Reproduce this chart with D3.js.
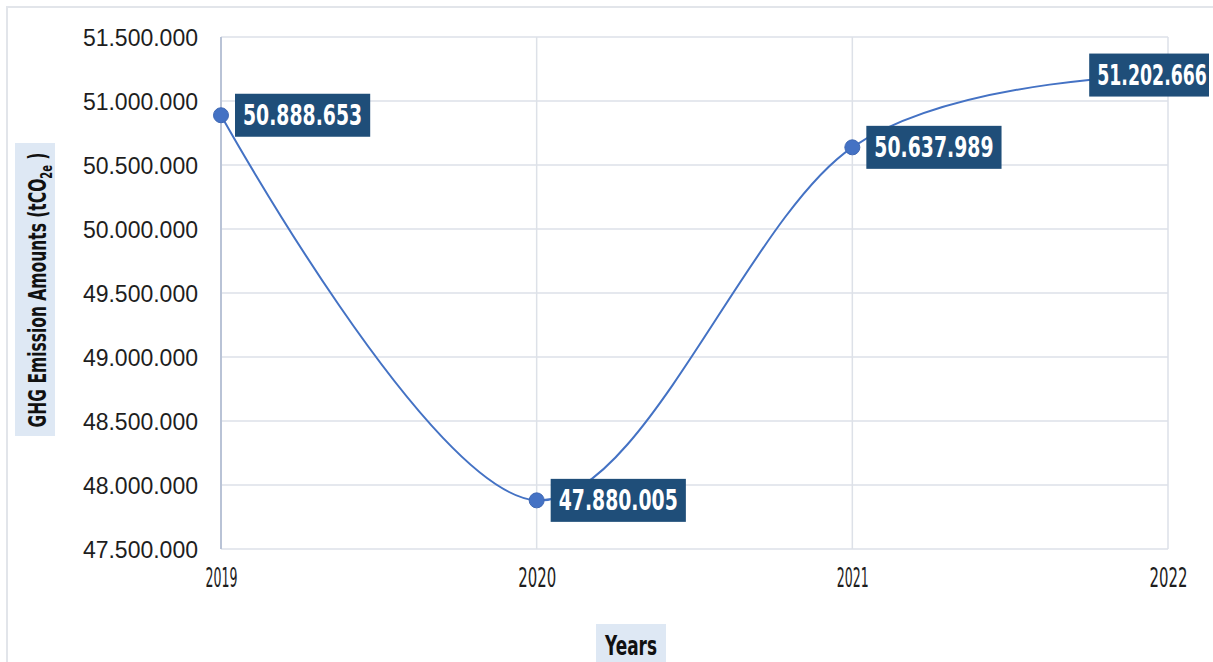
<!DOCTYPE html>
<html>
<head>
<meta charset="utf-8">
<script src="https://cdn.jsdelivr.net/npm/d3@7"></script>
<style>
  html, body { margin: 0; padding: 0; background: #fff; }
  svg { display: block; }
</style>
</head>
<body>
<svg id="chart" width="1213" height="662"></svg>
<script>
// GHG emissions by year (tCO2e)
const years = ["2019", "2020", "2021", "2022"];
const emissions = [50888653, 47880005, 50637989, 51202666];
const yTickValues = [47500000, 48000000, 48500000, 49000000, 49500000, 50000000, 50500000, 51000000, 51500000];

const W = 1213, H = 662;
const plot = { left: 221, right: 1168, top: 37, bottom: 549 };

const svg = d3.select("#chart");
const locale = d3.formatLocale({ decimal: ",", thousands: ".", grouping: [3], currency: ["", ""] });
const fmt = locale.format(",");

const x = d3.scalePoint().domain(years).range([plot.left, plot.right]);
const y = d3.scaleLinear().domain([47500000, 51500000]).range([plot.bottom, plot.top]);

const condensed = "'DejaVu Sans', 'Liberation Sans', sans-serif";

// squeeze a text node horizontally to a target width
function fitWidth(node, target) {
  const w = node.getComputedTextLength();
  return w > 0 ? target / w : 1;
}

// outer chart frame
svg.append("rect")
  .attr("x", 7).attr("y", 7).attr("width", W + 20).attr("height", H + 20)
  .attr("fill", "none").attr("stroke", "#e2e5ea").attr("stroke-width", 2);

// horizontal gridlines
svg.append("g")
  .selectAll("line")
  .data(yTickValues)
  .join("line")
  .attr("x1", plot.left).attr("x2", plot.right)
  .attr("y1", d => y(d)).attr("y2", d => y(d))
  .attr("stroke", "#dde1e8").attr("stroke-width", 1.5);

// vertical gridlines
svg.append("g")
  .selectAll("line")
  .data(years.slice(1))
  .join("line")
  .attr("x1", d => x(d)).attr("x2", d => x(d))
  .attr("y1", plot.top).attr("y2", plot.bottom)
  .attr("stroke", "#dde1e8").attr("stroke-width", 1.5);

// value axis line
svg.append("line")
  .attr("x1", plot.left).attr("x2", plot.left)
  .attr("y1", plot.top).attr("y2", plot.bottom)
  .attr("stroke", "#b9c3d6").attr("stroke-width", 2);

// y tick labels
const yAxis = d3.axisLeft(y).tickValues(yTickValues).tickFormat(fmt).tickSize(0).tickPadding(23);
const gy = svg.append("g").attr("transform", `translate(${plot.left},0)`).call(yAxis);
gy.select(".domain").remove();
gy.selectAll("text")
  .attr("font-family", "'Liberation Sans', Arial, sans-serif")
  .attr("font-size", 23)
  .attr("fill", "#1e1e1e")
  .attr("dy", "0.36em");

// x tick labels (narrow face)
const xAxis = d3.axisBottom(x).tickSize(0).tickPadding(0);
const gx = svg.append("g").attr("transform", `translate(0,${plot.bottom})`).call(xAxis);
gx.select(".domain").remove();
gx.selectAll(".tick text").each(function (d) {
  const t = d3.select(this)
    .attr("font-family", condensed)
    .attr("font-size", 26)
    .attr("fill", "#1e1e1e")
    .attr("text-anchor", "middle")
    .attr("x", 0).attr("y", 0).attr("dy", null);
  const target = d.split("").reduce((s, c) => s + (c === "1" ? 3.5 : 9.5), 0);
  const k = fitWidth(this, target);
  t.attr("transform", `translate(0,38) scale(${k},1)`);
});

// smoothed series line
const pts = years.map((yr, i) => ({ yr, v: emissions[i] }));
svg.append("path")
  .datum(pts)
  .attr("fill", "none")
  .attr("stroke", "#4472c4")
  .attr("stroke-width", 2)
  .attr("d", d3.line().x(d => x(d.yr)).y(d => y(d.v)).curve(d3.curveCardinal.tension(0)));

// markers
svg.append("g")
  .selectAll("circle")
  .data(pts)
  .join("circle")
  .attr("cx", d => x(d.yr)).attr("cy", d => y(d.v))
  .attr("r", 7.5)
  .attr("fill", "#4472c4")
  .attr("stroke", "#3f68b4").attr("stroke-width", 1);

// data labels
const labelRight = 1209;
const labels = svg.append("g");
pts.forEach(d => {
  const s = fmt(d.v);
  const textW = s.split("").reduce((a, c) => a + (c === "1" ? 4 : c === "." ? 6 : 13.4), 0);
  const px = x(d.yr), py = y(d.v);
  let bx = px + 14, bw = textW + 16;
  if (bx + bw > labelRight) { bw = textW + 10; bx = labelRight - bw; }
  const g = labels.append("g");
  g.append("rect")
    .attr("x", bx).attr("y", py - 21.5)
    .attr("width", bw).attr("height", 43)
    .attr("fill", "#1f4e79");
  const t = g.append("text")
    .attr("font-family", condensed)
    .attr("font-weight", "bold")
    .attr("font-size", 28)
    .attr("fill", "#ffffff")
    .text(s);
  const k = fitWidth(t.node(), textW);
  t.attr("transform", `translate(${bx + 8},${py + 10}) scale(${k},1)`);
});

// y axis title
svg.append("rect")
  .attr("x", 15).attr("y", 143).attr("width", 40).attr("height", 293)
  .attr("fill", "#dee8f4");
const yt = svg.append("text")
  .attr("font-family", condensed)
  .attr("font-weight", "bold")
  .attr("font-size", 25)
  .attr("fill", "#111")
  .attr("text-anchor", "middle");
yt.append("tspan").text("GHG Emission Amounts  (tCO");
yt.append("tspan").attr("font-size", 16).attr("dy", 6).text("2e");
yt.append("tspan").attr("dy", -6).text(" )");
{
  const bb = yt.node().getBBox();
  const k = 275 / bb.width;
  yt.attr("transform", `translate(46,290) rotate(-90) scale(${k},1)`);
}

// x axis title
svg.append("rect")
  .attr("x", 596).attr("y", 624).attr("width", 70).attr("height", 50)
  .attr("fill", "#dee8f4");
const xt = svg.append("text")
  .attr("font-family", condensed)
  .attr("font-weight", "bold")
  .attr("font-size", 27)
  .attr("fill", "#111")
  .attr("text-anchor", "middle")
  .text("Years");
{
  const k = fitWidth(xt.node(), 52);
  xt.attr("transform", `translate(631,655) scale(${k},1)`);
}
</script>
</body>
</html>
